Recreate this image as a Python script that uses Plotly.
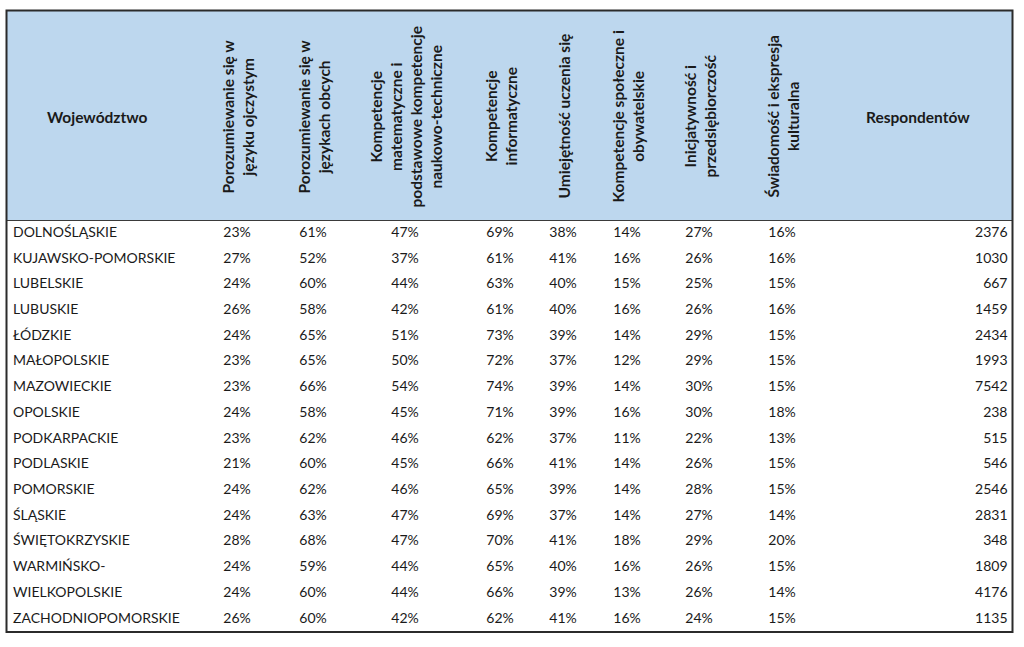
import plotly.graph_objects as go

regions = ["DOLNOŚLĄSKIE", "KUJAWSKO-POMORSKIE", "LUBELSKIE", "LUBUSKIE", "ŁÓDZKIE",
           "MAŁOPOLSKIE", "MAZOWIECKIE", "OPOLSKIE", "PODKARPACKIE", "PODLASKIE",
           "POMORSKIE", "ŚLĄSKIE", "ŚWIĘTOKRZYSKIE", "WARMIŃSKO-", "WIELKOPOLSKIE",
           "ZACHODNIOPOMORSKIE"]

headers = ["Porozumiewanie się w<br>języku ojczystym",
           "Porozumiewanie się w<br>językach obcych",
           "Kompetencje<br>matematyczne i<br>podstawowe kompetencje<br>naukowo-techniczne",
           "Kompetencje<br>informatyczne",
           "Umiejętność uczenia się",
           "Kompetencje społeczne i<br>obywatelskie",
           "Inicjatywność i<br>przedsiębiorczość",
           "Świadomość i ekspresja<br>kulturalna"]

jezyk_ojczysty = [23, 27, 24, 26, 24, 23, 23, 24, 23, 21, 24, 24, 28, 24, 24, 26]
jezyki_obce = [61, 52, 60, 58, 65, 65, 66, 58, 62, 60, 62, 63, 68, 59, 60, 60]
matematyczne = [47, 37, 44, 42, 51, 50, 54, 45, 46, 45, 46, 47, 47, 44, 44, 42]
informatyczne = [69, 61, 63, 61, 73, 72, 74, 71, 62, 66, 65, 69, 70, 65, 66, 62]
uczenie = [38, 41, 40, 40, 39, 37, 39, 39, 37, 41, 39, 37, 41, 40, 39, 41]
spoleczne = [14, 16, 15, 16, 14, 12, 14, 16, 11, 14, 14, 14, 18, 16, 13, 16]
inicjatywnosc = [27, 26, 25, 26, 29, 29, 30, 30, 22, 26, 28, 27, 29, 26, 26, 24]
swiadomosc = [16, 16, 15, 16, 15, 15, 15, 18, 13, 15, 15, 14, 20, 15, 14, 15]
respondentow = [2376, 1030, 667, 1459, 2434, 1993, 7542, 238, 515, 546, 2546, 2831,
                348, 1809, 4176, 1135]

series = [jezyk_ojczysty, jezyki_obce, matematyczne, informatyczne, uczenie,
          spoleczne, inicjatywnosc, swiadomosc]

# layout geometry (pixel-like data space)
W, H = 1024, 647
left, right, top, head_bottom, bottom = 6.5, 1012.5, 10.5, 220.5, 632
col_centers = [237, 313, 405, 500, 563, 627, 699, 782]
name_x = 13
resp_x = 1007.5
header_blue = "#BDD7EE"
FONT = "Lato"
fs = 14
hfs = 15.5
txt = "#1a1a1a"

n = len(regions)
row_h = (bottom - head_bottom) / n
row_y = [head_bottom + (i + 0.5) * row_h for i in range(n)]

fig = go.Figure()

fig.add_trace(go.Scatter(x=[name_x] * n, y=row_y, mode="text", text=regions,
                         textposition="middle right",
                         textfont=dict(family=FONT, size=fs, color=txt),
                         hoverinfo="skip", showlegend=False))
for cx, vals in zip(col_centers, series):
    fig.add_trace(go.Scatter(x=[cx] * n, y=row_y, mode="text",
                             text=[f"{v}%" for v in vals],
                             textposition="middle center",
                             textfont=dict(family=FONT, size=fs, color=txt),
                             hoverinfo="skip", showlegend=False))
fig.add_trace(go.Scatter(x=[resp_x] * n, y=row_y, mode="text",
                         text=[str(v) for v in respondentow],
                         textposition="middle left",
                         textfont=dict(family=FONT, size=fs, color=txt),
                         hoverinfo="skip", showlegend=False))

# header background and frame
fig.add_shape(type="rect", x0=left, x1=right, y0=top, y1=head_bottom,
              fillcolor=header_blue, line=dict(width=0), layer="below")
fig.add_shape(type="line", x0=left, x1=right, y0=head_bottom, y1=head_bottom,
              line=dict(color="#3a3a3a", width=1))
fig.add_shape(type="rect", x0=left, x1=right, y0=top, y1=bottom,
              line=dict(color="#2b2b2b", width=2))

head_y = (top + head_bottom) / 2 + 1
fig.add_annotation(x=97, y=head_y, text="<b>Województwo</b>", showarrow=False,
                   font=dict(family=FONT, size=hfs, color=txt))
fig.add_annotation(x=918, y=head_y, text="<b>Respondentów</b>", showarrow=False,
                   font=dict(family=FONT, size=hfs, color=txt))
for cx, h in zip(col_centers, headers):
    fig.add_annotation(x=cx, y=head_y, text=f"<b>{h}</b>", showarrow=False,
                       textangle=-90, align="center",
                       font=dict(family=FONT, size=hfs, color=txt))

fig.update_xaxes(range=[0, W], visible=False, fixedrange=True)
fig.update_yaxes(range=[H, 0], visible=False, fixedrange=True)
fig.update_layout(width=W, height=H, margin=dict(l=0, r=0, t=0, b=0),
                  plot_bgcolor="white", paper_bgcolor="white")

fig.write_html("out.html", config={"displayModeBar": False},
               post_script="document.body.style.margin='0';document.body.style.overflow='hidden';")
